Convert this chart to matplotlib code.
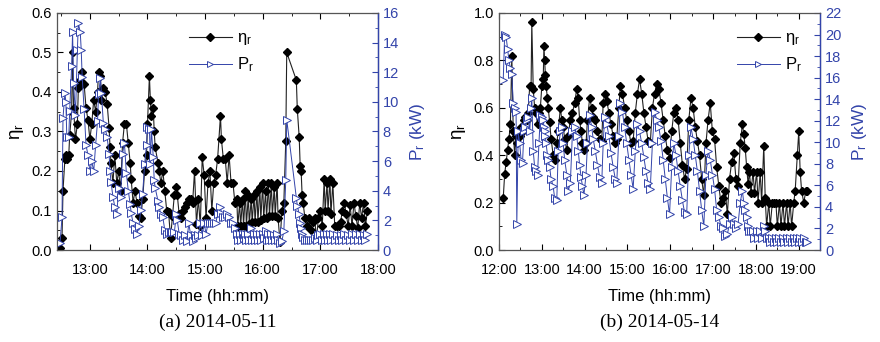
import numpy as np
import matplotlib.pyplot as plt
from matplotlib.ticker import MultipleLocator, FuncFormatter

plt.rcParams['font.family'] = ['Liberation Sans', 'DejaVu Sans']
plt.rcParams['mathtext.fontset'] = 'custom'
plt.rcParams['mathtext.rm'] = 'Liberation Sans'
plt.rcParams['mathtext.it'] = 'Liberation Sans:italic'

BLUE = '#3344aa'

# (a) 2014-05-11 : time in minutes after 12:00
t_a = [29, 31, 32, 34, 35, 36, 38, 39, 41, 42,
       43, 45, 47, 48, 50, 51, 52, 54, 56, 58,
       60, 62, 64, 66, 68, 69, 71, 72, 74, 76,
       78, 80, 81, 82, 84, 86, 88, 90, 92, 94,
       96, 98, 100, 102, 103, 105, 107, 109, 111, 113,
       115, 117, 119, 120, 122, 123, 124, 126, 127, 128,
       131, 132, 134, 136, 138, 140, 142, 144, 146, 148,
       150, 151, 153, 155, 157, 159, 161, 163, 165, 167,
       169, 171, 173, 175, 177, 179, 181, 183, 185, 187,
       189, 191, 193, 196, 197, 199, 201, 203, 205, 207,
       209, 211, 213, 214, 216, 217, 219, 220, 222, 223,
       225, 226, 228, 229, 231, 232, 234, 235, 237, 238,
       240, 241, 243, 244, 246, 247, 249, 250, 252, 253,
       255, 256, 258, 260, 262, 264, 265, 275, 276, 278,
       279, 280, 281, 282, 284, 286, 288, 290, 292, 294,
       296, 298, 300, 302, 304, 305, 307, 308, 310, 311,
       313, 315, 317, 319, 321, 323, 325, 327, 329, 331,
       333, 335, 337, 339, 341, 343, 345, 347, 349]
eta_a = [.005, .03, .15, .23, .24, .23, .24, .29, .35, .50,
         .36, .28, .32, .41, .43, .42, .45, .42, .36, .33,
         .28, .32, .38, .35, .40, .45, .44, .38, .41, .40,
         .37, .31, .26, .22, .17, .24, .17, .20, .15, .27,
         .32, .32, .27, .22, .18, .12, .15, .12, .085, .08,
         .13, .20, .24, .32, .44, .38, .34, .36, .30, .26,
         .22, .20, .17, .20, .15, .10, .095, .03, .085, .14,
         .16, .14, .09, .08, .10, .11, .12, .13, .13, .12,
         .20, .065, .13, .06, .235, .19, .08, .17, .20, .10,
         .17, .19, .23, .34, .28, .23, .23, .17, .24, .17,
         .17, .12, .13, .06, .12, .06, .13, .06, .15, .06,
         .14, .065, .13, .07, .14, .07, .15, .07, .16, .075,
         .17, .08, .15, .08, .17, .085, .17, .085, .16, .085,
         .17, .08, .02, .10, .12, .275, .50, .43, .357, .285,
         .213, .20, .14, .12, .08, .06, .08, .05, .07, .08,
         .03, .08, .10, .06, .18, .10, .17, .10, .18, .09,
         .17, .06, .06, .06, .07, .10, .12, .09, .06, .115,
         .06, .12, .085, .055, .12, .08, .12, .06, .10]
p_a = [0.5, 2.2, 8.9, 10.6, 10.0, 7.6, 7.6, 9.4, 12.4, 14.7,
       11.3, 9.1, 13.5, 15.3, 14.7, 13.5, 11.7, 9.5, 7.1, 6.4,
       5.3, 6.0, 5.3, 7.1, 8.7, 10.5, 11.6, 10.6, 8.6, 8.2,
       7.6, 6.5, 5.3, 4.6, 3.6, 2.9, 2.4, 4.2, 3.6, 6.5,
       7.2, 5.2, 4.0, 3.1, 2.5, 1.8, 1.4, 1.1, 1.6, 2.7,
       3.8, 5.8, 7.1, 8.3, 8.2, 5.8, 8.2, 6.3, 4.7, 4.2,
       3.3, 2.9, 2.4, 2.2, 1.35, 1.1, 1.2, 1.2, 1.2, 1.2,
       2.4, 2.0, 1.1, 1.0, 0.7, 1.0, 0.6, 1.8, 1.0, 0.6,
       1.0, 0.8, 1.0, 1.8, 1.0, 1.8, 1.1, 1.8, 1.8, 1.8,
       1.8, 1.8, 2.4, 2.9, 2.5, 2.2, 2.2, 2.4, 2.2, 1.8,
       1.8, 1.5, 1.1, 0.7, 1.1, 0.7, 1.1, 0.8, 1.1, 0.7,
       1.1, 0.7, 1.5, 0.7, 1.1, 0.7, 1.1, 0.7, 1.1, 0.7,
       1.1, 0.8, 1.3, 0.7, 1.1, 0.7, 1.1, 0.7, 1.0, 0.7,
       1.1, 0.7, 0.5, 0.6, 1.3, 4.7, 8.8, 3.5, 3.0, 2.4,
       1.8, 1.5, 1.1, 0.9, 0.7, 0.7, 0.7, 0.7, 0.7, 0.8,
       0.7, 1.0, 1.1, 0.7, 1.1, 0.7, 1.1, 0.7, 1.1, 0.7,
       1.1, 0.7, 1.0, 0.7, 1.0, 0.7, 1.1, 0.7, 1.0, 0.7,
       1.1, 0.7, 1.1, 0.7, 1.1, 0.7, 1.0, 0.7, 1.1]

# (b) 2014-05-14
t_b = [6, 8, 10, 12, 14, 16, 18, 20, 22, 24, 25, 27, 29, 31, 33, 35, 37, 39,
       41, 43, 45, 46, 48, 50, 52, 54, 56,
       58, 60, 62, 63, 64, 65, 66, 68, 69, 71, 73, 76, 78, 81, 83, 86, 88, 90,
       92, 95, 97, 100, 103, 106, 109, 111, 113, 115, 117, 119,
       122, 124, 127, 130, 132, 135, 138, 141, 144,
       146, 148, 151, 154, 157, 160, 163, 165,
       168, 170, 173, 176, 179, 182, 185, 188,
       191, 194, 197, 200, 203, 206, 209, 212,
       215, 218, 221, 224, 227, 230, 233, 236, 239,
       242, 245, 248, 251, 254, 257, 260, 263,
       266, 269, 272, 275, 278, 281, 284, 287,
       290, 293, 296, 299, 302, 305, 308, 311, 314, 317, 320,
       323, 326, 329, 332, 335, 338, 341, 343, 345, 347, 349, 351, 353, 356,
       358, 361, 363, 366, 368, 371, 373, 375, 378, 380, 383, 385, 388, 390,
       393, 395, 398, 400, 403, 405, 408, 410, 413, 415, 418, 420, 422, 424,
       427, 430, 432]
eta_b = [.22, .32, .37, .42, .47, .53, .82, .50, .40, .48, .45, .50, .48, .52,
         .50, .55, .56, .55, .58, .69, .69, .96, .68, .60, .58, .53, .58,
         .60, .69, .72, .86, .80, .74, .69, .64, .60, .54, .47, .40, .38, .45,
         .50, .60, .55, .52, .47, .42, .48, .55, .58, .62, .68, .64, .55, .50,
         .45, .42,
         .45, .55, .64, .60, .56, .55, .50, .47, .46,
         .62, .66, .63, .58, .53, .48, .45, .47,
         .60, .69, .66, .60, .55, .50, .45, .46,
         .58, .66, .72, .66, .58, .52, .46, .45,
         .60, .66, .70, .68, .62, .55, .48, .42, .39,
         .50, .58, .60, .55, .45, .36, .30, .34,
         .55, .64, .60, .52, .46, .40, .30, .23,
         .45, .55, .62, .50, .47, .35, .27, .20, .22, .25, .15,
         .30, .37, .41, .30, .27, .45, .53, .49, .43, .35, .28, .33, .24, .33,
         .24, .33, .20, .33, .20, .44, .22, .10, .20, .10, .20, .20, .20, .10,
         .20, .10, .20, .10, .20, .10, .20, .10, .20, .25, .40, .50, .33, .25,
         .20, .25, .25]
p_b = [15.8, 20.0, 19.8, 18.7, 17.6, 16.9, 16.3, 13.6, 13.2, 12.8, 2.4, 11.0,
       9.9, 8.4, 8.1, 11.0, 11.4, 12.1, 12.3, 11.0, 13.2, 14.1, 9.2, 7.7, 7.3,
       7.0, 9.9,
       12.5, 12.3, 12.1, 11.4, 11.0, 10.6, 9.9, 8.8, 8.4, 7.7, 6.6, 5.9, 4.8,
       4.6, 9.2, 11.0, 11.4, 9.9, 8.4, 7.0, 5.5, 6.2, 11.0, 11.4, 10.6, 9.2,
       7.9, 6.8, 5.9, 5.1,
       7.0, 9.9, 12.5, 11.4, 10.3, 9.2, 7.9, 6.8, 6.2,
       9.9, 12.3, 11.7, 10.6, 9.0, 7.7, 6.6, 6.2,
       10.6, 13.6, 12.8, 11.4, 9.9, 8.4, 7.0, 5.7,
       9.2, 11.7, 11.0, 9.9, 8.6, 7.3, 6.2, 5.7,
       9.9, 12.8, 12.1, 11.4, 10.1, 8.4, 6.6, 4.8, 3.3,
       7.7, 9.9, 8.8, 7.3, 5.9, 4.6, 3.5, 3.3,
       8.8, 11.4, 10.3, 8.8, 7.3, 5.5, 3.7, 2.2,
       7.0, 9.2, 8.4, 7.0, 5.7, 3.7, 3.1, 2.2, 2.0, 1.3, 1.5,
       2.4, 3.1, 2.4, 2.0, 2.4, 4.4, 5.5, 4.4, 3.7, 3.1, 2.2, 1.8, 1.8, 1.8,
       1.1, 1.8, 1.1, 1.8, 1.1, 2.2, 1.8, 1.1, 1.1, 0.7, 1.1, 0.7, 1.1, 0.7,
       1.1, 0.7, 1.1, 0.7, 1.1, 0.7, 1.1, 0.7, 1.1, 0.7, 1.1, 0.7, 1.1, 0.7,
       1.1, 0.7, 0.7]


def hhmm(h, pos):
    return "%d:%02d" % (int(h), int(round((h % 1) * 60)))


def panel(fig, rect, t, eta, p, xlim, xticks, eta_max, eta_major, eta_minor,
          p_max, legend_x, caption):
    ax = fig.add_axes(rect)
    ax2 = ax.twinx()
    hours = 12 + np.array(t) / 60.0

    l1, = ax.plot(hours, eta, color='#222222', lw=0.8, marker='D', ms=4.5,
                  mfc='black', mec='black', label='η$_\\mathrm{r}$')
    l2, = ax2.plot(hours, p, color=BLUE, lw=0.7, marker='>', ms=5.5,
                   mfc='white', mec=BLUE, mew=0.7, label='P$_\\mathrm{r}$')

    ax.set_xlim(*xlim)
    ax.set_ylim(0, eta_max)
    ax2.set_ylim(0, p_max)
    ax.set_xticks(xticks)
    ax.xaxis.set_minor_locator(MultipleLocator(0.5))
    ax.xaxis.set_major_formatter(FuncFormatter(hhmm))
    ax.yaxis.set_major_locator(MultipleLocator(eta_major))
    ax.yaxis.set_minor_locator(MultipleLocator(eta_minor))
    ax.yaxis.set_major_formatter(FuncFormatter(lambda v, pos: "%.1f" % v))
    ax2.yaxis.set_major_locator(MultipleLocator(2))
    ax2.yaxis.set_minor_locator(MultipleLocator(1))

    ax.tick_params(which='both', direction='in', top=True, labelsize=10.5)
    ax.tick_params(which='major', length=4)
    ax.tick_params(which='minor', length=2)
    ax.tick_params(axis='x', pad=9)
    ax2.tick_params(which='both', direction='in', colors=BLUE, labelsize=10.5)
    ax2.tick_params(which='major', length=4)
    ax2.tick_params(which='minor', length=2)
    for s in ['top', 'left', 'bottom']:
        ax2.spines[s].set_color('#555555')
    ax2.spines['right'].set_color(BLUE)
    ax2.spines['right'].set_linewidth(1.0)

    ax.set_xlabel('Time (hh:mm)', fontsize=12, labelpad=9)
    ax.set_ylabel('η$_\\mathrm{r}$', fontsize=13.5, labelpad=4)
    ax2.set_ylabel('P$_\\mathrm{r}$ (kW)', fontsize=12.5, color=BLUE,
                   labelpad=6)

    ax2.legend([l1, l2], [l1.get_label(), l2.get_label()], loc='upper right',
               bbox_to_anchor=(legend_x, 0.99), frameon=False, fontsize=12,
               handlelength=2.6, markerscale=0.8, labelspacing=0.5,
               handletextpad=0.3)

    fig.text(rect[0] + rect[2] / 2, 0.058, caption, ha='center', va='center',
             family='Liberation Serif', fontsize=14)
    return ax, ax2


fig = plt.figure(figsize=(8.8, 3.42), dpi=100)

panel(fig, [0.0648, 0.269, 0.3647, 0.693], t_a, eta_a, p_a,
      (12.43, 18.0), [13, 14, 15, 16, 17, 18], 0.6, 0.1, 0.05, 16, 0.66,
      '(a) 2014-05-11')
panel(fig, [0.567, 0.269, 0.365, 0.693], t_b, eta_b, p_b,
      (12.0, 19.5), [12, 13, 14, 15, 16, 17, 18, 19], 1.0, 0.2, 0.1, 22, 0.99,
      '(b) 2014-05-14')

fig.savefig('out.png', dpi=100)
plt.close()
